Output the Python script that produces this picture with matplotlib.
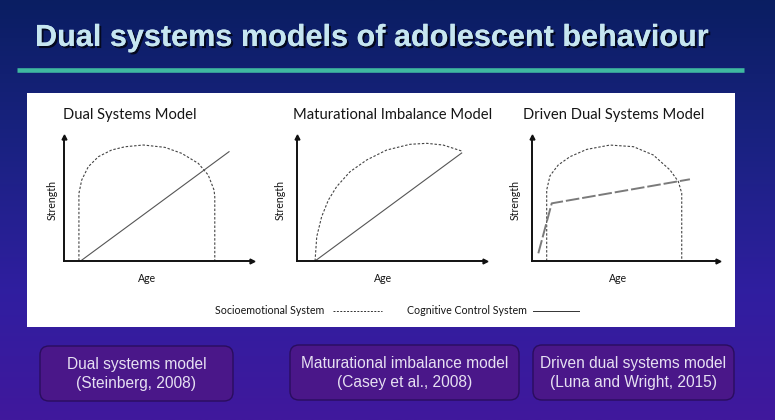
import numpy as np
import matplotlib
matplotlib.use("Agg")
import matplotlib.pyplot as plt
from matplotlib.patches import Rectangle, FancyBboxPatch
from matplotlib.colors import LinearSegmentedColormap
import matplotlib.patheffects as pe

# ---------------- data ----------------
slide_title = "Dual systems models of adolescent behaviour"
panel_titles = ["Dual Systems Model", "Maturational Imbalance Model", "Driven Dual Systems Model"]
x_label = "Age"
y_label = "Strength"
legend_socio = "Socioemotional System"
legend_cog = "Cognitive Control System"
box_texts = ["Dual systems model\n(Steinberg, 2008)",
             "Maturational imbalance model\n(Casey et al., 2008)",
             "Driven dual systems model\n(Luna and Wright, 2015)"]

# panel 1: Dual Systems Model
p1_socio_x = [0.78, 0.78, 0.93, 1.28, 1.82, 2.53, 3.24, 4.22, 5.37, 6.26, 7.15, 7.68, 7.99, 8.03, 8.03]
p1_socio_y = [0.0, 5.43, 6.51, 7.58, 8.39, 8.93, 9.19, 9.33, 9.14, 8.66, 7.85, 6.91, 5.70, 5.16, 0.0]
p1_cog_x = [0.89, 8.79]
p1_cog_y = [0.0, 8.79]

# panel 2: Maturational Imbalance Model
p2_socio_x = [0.96, 1.05, 1.31, 1.67, 2.11, 2.82, 3.71, 4.77, 6.01, 6.90, 7.78, 8.76]
p2_socio_y = [0.0, 1.96, 3.57, 4.92, 6.00, 7.20, 8.15, 8.95, 9.41, 9.49, 9.35, 8.87]
p2_cog_x = [0.96, 8.76]
p2_cog_y = [0.0, 8.71]

# panel 3: Driven Dual Systems Model
p3_socio_x = [0.79, 0.79, 0.97, 1.41, 2.04, 2.94, 4.19, 5.45, 6.52, 7.42, 7.87, 8.05, 8.05]
p3_socio_y = [0.0, 5.73, 6.88, 7.74, 8.41, 9.00, 9.35, 9.22, 8.55, 7.34, 6.40, 5.46, 0.0]
p3_cog_x = [0.34, 1.06, 8.49]
p3_cog_y = [0.62, 4.65, 6.59]

# ---------------- figure ----------------
W, H = 775, 420
fig = plt.figure(figsize=(W / 100, H / 100), dpi=100)
bg = fig.add_axes([0, 0, 1, 1])
bg.set_xlim(0, W)
bg.set_ylim(H, 0)
bg.axis("off")

cmap = LinearSegmentedColormap.from_list(
    "bg", [(0.0, "#0a1e62"), (0.35, "#1a2282"), (0.7, "#301ea0"), (1.0, "#40189c")])
grad = np.linspace(0, 1, 256).reshape(-1, 1)
bg.imshow(grad, cmap=cmap, extent=[0, W, H, 0], aspect="auto", zorder=0)

# title
t = bg.text(35, 46, slide_title, fontsize=21, fontweight="bold", color="#c6e6f0",
            family="Liberation Sans", va="baseline", ha="left", zorder=3,
            path_effects=[pe.withSimplePatchShadow(offset=(1.5, -1.5), shadow_rgbFace="black", alpha=0.7),
                          pe.Normal()])
fig.canvas.draw()
w = t.get_window_extent().width
t.set_fontsize(21 * 673 / w)

# teal rule
bg.plot([17, 744], [70, 70], color="#3fb9a0", lw=3.3, solid_capstyle="butt", zorder=3)

# white panel
bg.add_patch(Rectangle((27, 93), 708, 234, facecolor="white", edgecolor="none", zorder=1))

# boxes
boxes = [(40, 346, 193, 55), (290, 345, 229, 55), (533, 345, 201, 55)]
for (bx, by, bw, bh), txt in zip(boxes, box_texts):
    bg.add_patch(FancyBboxPatch((bx, by), bw, bh, boxstyle="round,pad=0,rounding_size=9",
                                facecolor="#4a1789", edgecolor="#2a0d5e", lw=1.0, zorder=2))
    bg.text(bx + bw / 2, by + bh / 2 + 0.5, txt, ha="center", va="center", fontsize=11.2,
            color="#e6e0f2", family="Liberation Sans", linespacing=1.3, zorder=3)

# legend
font_panel = "Lato"
txtc = "#151515"
bg.text(215, 311, legend_socio, fontsize=7.7, family=font_panel, color=txtc, va="center", ha="left", zorder=3)
bg.plot([333, 382], [311, 311], color="#333333", lw=0.7, ls=(0, (2, 1.5)), zorder=3)
bg.text(407, 311, legend_cog, fontsize=7.7, family=font_panel, color=txtc, va="center", ha="left", zorder=3)
bg.plot([533, 579], [311, 311], color="#333333", lw=0.7, zorder=3)

# ---------------- panels ----------------
panels = [
    dict(box=(64.3, 260.7, 251.7, 136.7), title=panel_titles[0], tx=63, ha="left",
         sx=p1_socio_x, sy=p1_socio_y, cx=p1_cog_x, cy=p1_cog_y, cog_style="solid", sl=52, ax_=147),
    dict(box=(297, 261, 485, 137), title=panel_titles[1], tx=393, ha="center",
         sx=p2_socio_x, sy=p2_socio_y, cx=p2_cog_x, cy=p2_cog_y, cog_style="solid", sl=280, ax_=383),
    dict(box=(532, 261, 718, 137), title=panel_titles[2], tx=614, ha="center",
         sx=p3_socio_x, sy=p3_socio_y, cx=p3_cog_x, cy=p3_cog_y, cog_style="dashed", sl=515, ax_=618),
]

for p in panels:
    l, b, r, tp = p["box"]
    ax = fig.add_axes([l / W, 1 - b / H, (r - l) / W, (b - tp) / H])
    ax.set_xlim(0, 10)
    ax.set_ylim(0, 10)
    ax.patch.set_alpha(0)
    for s in ["top", "right"]:
        ax.spines[s].set_visible(False)
    for s in ["left", "bottom"]:
        ax.spines[s].set_linewidth(1.4)
        ax.spines[s].set_color("#111111")
    ax.set_xticks([])
    ax.set_yticks([])
    ax.plot(1, 0, ">", color="#111111", ms=3.5, transform=ax.get_yaxis_transform(), clip_on=False)
    ax.plot(0, 1, "^", color="#111111", ms=3.5, transform=ax.get_xaxis_transform(), clip_on=False)
    ax.plot(p["sx"], p["sy"], color="#444444", lw=0.8, ls=(0, (2.2, 1.6)))
    if p["cog_style"] == "solid":
        ax.plot(p["cx"], p["cy"], color="#555555", lw=0.8)
    else:
        ax.plot(p["cx"], p["cy"], color="#7a7a7a", lw=1.4, ls=(0, (7, 1.5)))
    ax.set_zorder(4)
    bg.text(p["tx"], 115, p["title"], fontsize=10.6, family=font_panel, color=txtc,
            ha=p["ha"], va="center", zorder=3)
    bg.text(p["sl"], 200, y_label, fontsize=7.6, family=font_panel, color=txtc,
            rotation=90, ha="center", va="center", zorder=3)
    bg.text(p["ax_"], 279, x_label, fontsize=7.6, family=font_panel, color=txtc,
            ha="center", va="center", zorder=3)

fig.savefig("out.png", dpi=100)
